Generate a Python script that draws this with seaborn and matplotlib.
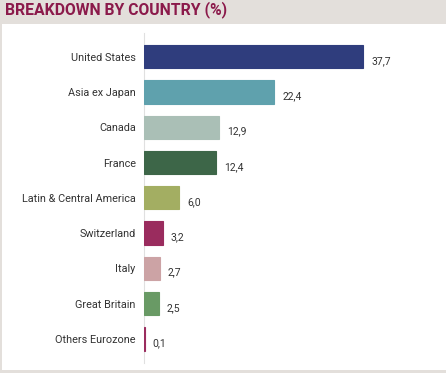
import seaborn as sns
import matplotlib.pyplot as plt
import matplotlib.patches as mpatches
import pandas as pd

# data
countries = ["United States", "Asia ex Japan", "Canada", "France",
             "Latin & Central America", "Switzerland", "Italy",
             "Great Britain", "Others Eurozone"]
weights = [37.7, 22.4, 12.9, 12.4, 6.0, 3.2, 2.7, 2.5, 0.1]
colors = ["#2f3d7d", "#5fa1ad", "#aabfb6", "#3d6648", "#a3ae62",
          "#9a2c5e", "#cca3a5", "#699a65", "#9a2c5e"]

df = pd.DataFrame({"country": countries, "weight": weights})

W, H = 446, 373
fig = plt.figure(figsize=(W / 100, H / 100), dpi=100)
fig.patch.set_facecolor("#e3dfdb")

# white panel behind the chart
fig.patches.append(mpatches.Rectangle((2 / W, 3 / H), (W - 2) / W, (H - 24 - 3) / H,
                                      transform=fig.transFigure,
                                      facecolor="white", edgecolor="none", zorder=-1))

fig.text(5 / W, 1 - 10 / H, "BREAKDOWN BY COUNTRY (%)", color="#8b1a4b",
         fontsize=11.3, fontweight="bold", family="Roboto", va="center", ha="left")

ax = fig.add_axes([144 / W, (H - 363) / H, (440 - 144) / W, 330 / H])
ax.set_facecolor("none")

sns.barplot(data=df, x="weight", y="country", hue="country", palette=colors,
            legend=False, width=0.66, ax=ax, saturation=1)
# thin edge in the bar colour so the tiny 0.1 bar still shows
for p in ax.patches:
    p.set_edgecolor(p.get_facecolor())
    p.set_linewidth(0.8)
    p.set_zorder(3)

for i, v in enumerate(weights):
    ax.text(v + 1.4, i + 0.12, f"{v:.1f}".replace(".", ","), va="center",
            ha="left", fontsize=7.5, family="Roboto", color="#333333")

ax.set_xlim(0, 296 / 5.81)
ax.set_ylim(8.68, -0.67)
ax.set_xlabel("")
ax.set_ylabel("")
ax.set_xticks([])
ax.tick_params(axis="y", length=0, pad=6, labelsize=7.8, labelcolor="#333333")
for lab in ax.get_yticklabels():
    lab.set_family("Roboto")
for s in ["top", "right", "bottom"]:
    ax.spines[s].set_visible(False)
ax.spines["left"].set_color("#e0e0e0")
ax.spines["left"].set_linewidth(0.8)
ax.spines["left"].set_zorder(1)

fig.savefig("out.png", dpi=100)
